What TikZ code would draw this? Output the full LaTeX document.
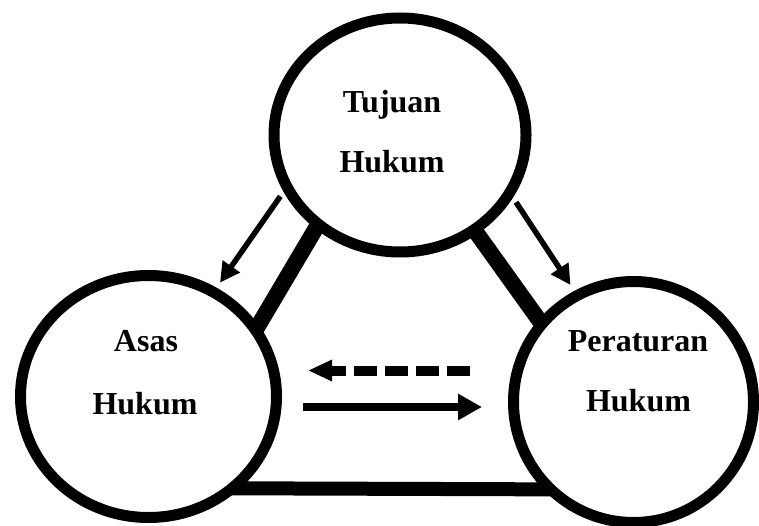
\documentclass[tikz,border=0pt]{standalone}
\usepackage{fontspec}
\setmainfont{Liberation Serif}
\usetikzlibrary{shapes.geometric,arrows.meta,backgrounds}
\begin{document}
\begin{tikzpicture}[x=1pt,y=-1pt,
  circ/.style={ellipse, draw, line width=11pt, fill=white, inner sep=0pt},
  thicklink/.style={line width=16pt, shorten <=-25pt, shorten >=-25pt},
  lbl/.style={font=\bfseries\fontsize{32}{32}\selectfont, anchor=base, inner sep=0pt},
  thinarrow/.style={line width=5.5pt, -{Triangle[length=20pt,width=20pt]}},
  ]
\useasboundingbox (0,0) rectangle (759,526);

% circles
\node[circ, minimum width=252pt, minimum height=234pt] (tujuan) at (400,135) {};
\node[circ, minimum width=256pt, minimum height=242pt] (asas) at (148.5,396.5) {};
\node[circ, minimum width=240pt, minimum height=241pt] (peraturan) at (633.5,402) {};

% thick links behind the circles
\begin{scope}[on background layer]
  \fill[white] (0,0) rectangle (759,526);
  \draw[thicklink] (asas.33) -- (tujuan.228);
  \draw[thicklink] (tujuan.308) -- (peraturan.139.5);
  \draw[thicklink, line width=14pt] (asas.-45) -- (peraturan.224);
\end{scope}

% labels
\node[lbl] (t1) at (392,113) {Tujuan};
\node[lbl] (t2) at (392,173) {Hukum};
\node[lbl] (a1) at (146,351) {Asas};
\node[lbl] (a2) at (145,414) {Hukum};
\node[lbl] (p1) at (638,351) {Peraturan};
\node[lbl] (p2) at (638.5,411) {Hukum};

% thin arrows
\draw[thinarrow, shorten <=5.5pt, shorten >=6pt] (tujuan.206) -- (asas.58);
\draw[thinarrow, shorten <=5.5pt, shorten >=7pt] (tujuan.-29) -- (peraturan.118.4);

% horizontal arrows
\coordinate (ds) at (470,370.5);
\coordinate (de) at (308,370.5);
\coordinate (ss) at (303,407);
\coordinate (se) at (482,407);
\draw[line width=10pt, dash pattern=on 23pt off 8pt,
      -{Triangle[length=24pt,width=20pt]}] (ds) -- (de);
\draw[line width=8pt, -{Triangle[length=24pt,width=25pt]}] (ss) -- (se);
\end{tikzpicture}
\end{document}
